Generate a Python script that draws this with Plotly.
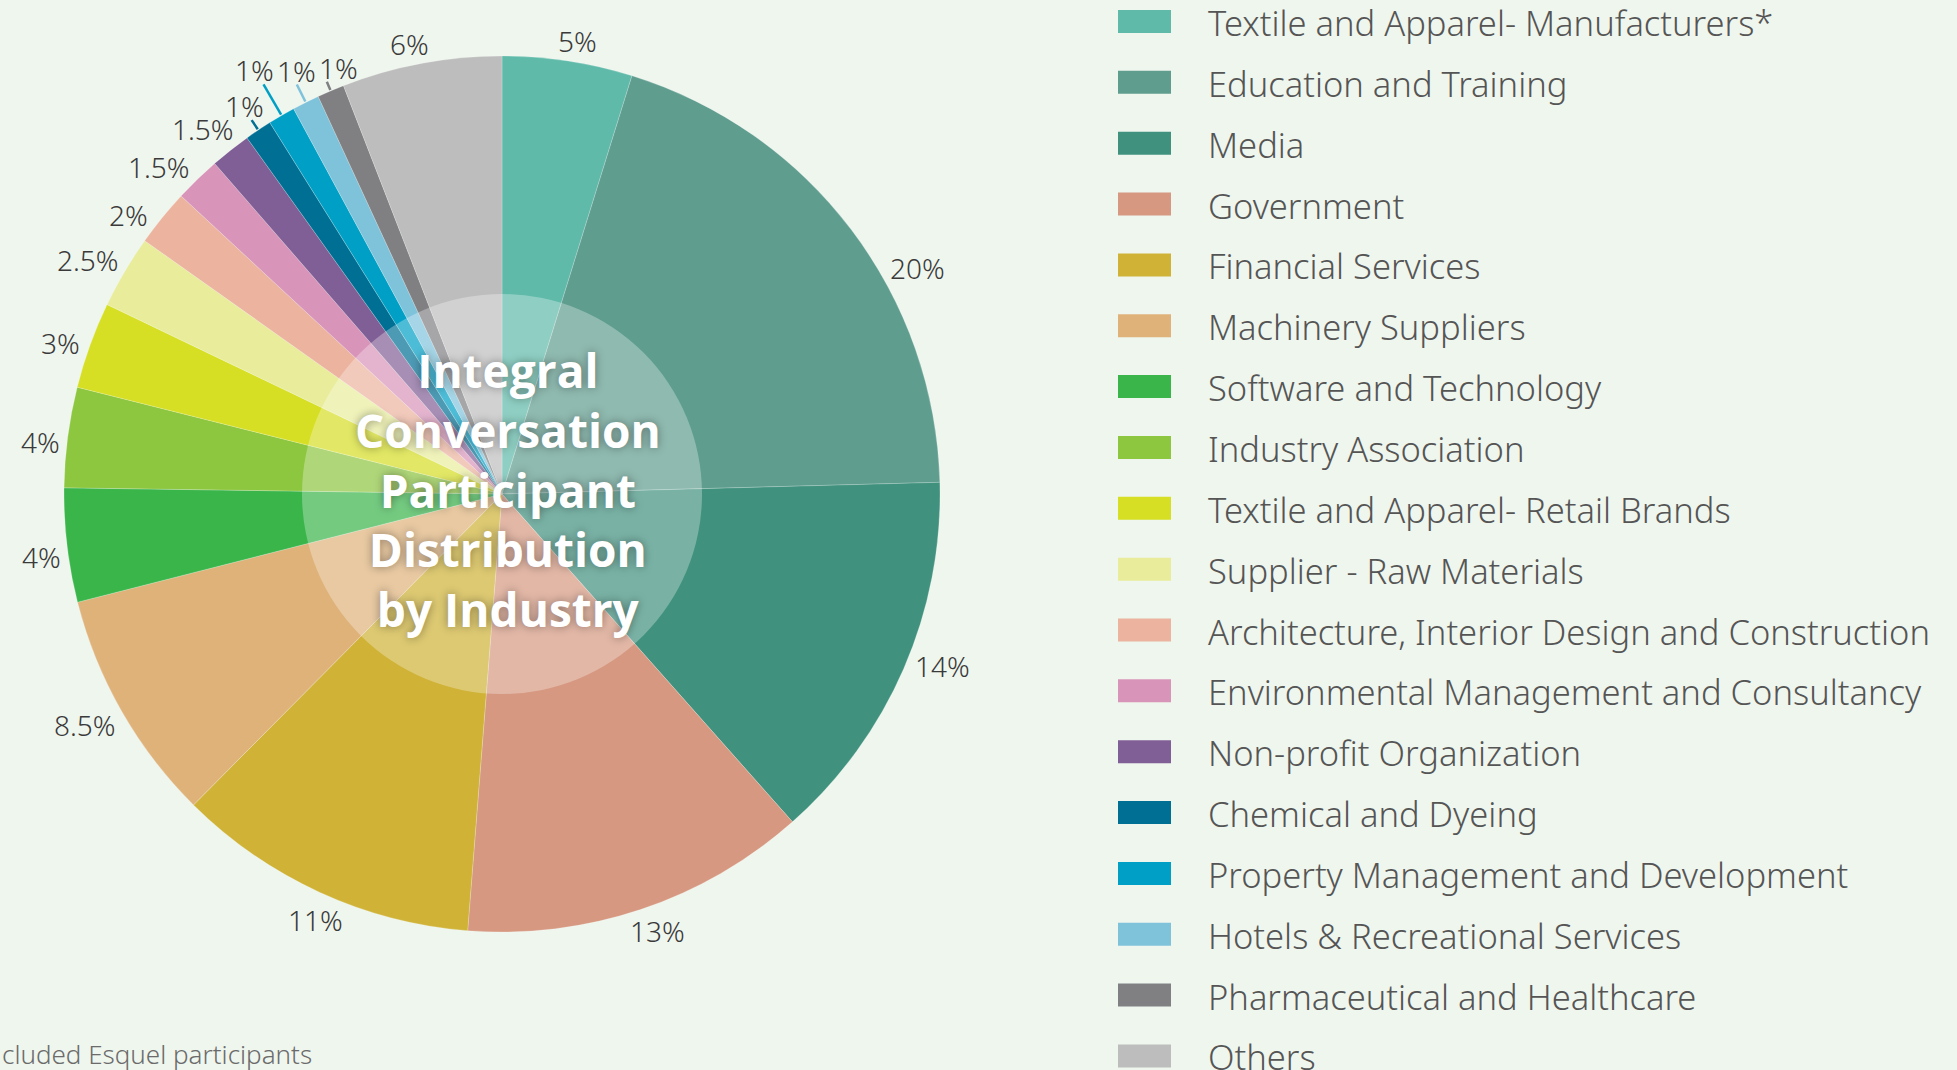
import math
import plotly.graph_objects as go

categories = [
    "Textile and Apparel- Manufacturers*",
    "Education and Training",
    "Media",
    "Government",
    "Financial Services",
    "Machinery Suppliers",
    "Software and Technology",
    "Industry Association",
    "Textile and Apparel- Retail Brands",
    "Supplier - Raw Materials",
    "Architecture, Interior Design and Construction",
    "Environmental Management and Consultancy",
    "Non-profit Organization",
    "Chemical and Dyeing",
    "Property Management and Development",
    "Hotels & Recreational Services",
    "Pharmaceutical and Healthcare",
    "Others",
]
# slice shares as measured from the slice angles in the picture
values = [4.8, 19.8, 13.9, 12.8, 11.2, 8.6, 4.2, 3.7, 3.2, 2.7, 2.1, 1.7, 1.5, 1.0, 1.0, 1.0, 1.0, 5.9]
# printed slice labels
value_labels = ["5%", "20%", "14%", "13%", "11%", "8.5%", "4%", "4%", "3%", "2.5%",
                "2%", "1.5%", "1.5%", "1%", "1%", "1%", "1%", "6%"]
colors = ["#5fbaa9", "#5f9d8f", "#40917e", "#d69880", "#cfb236", "#dfb27a",
          "#39b54a", "#8dc63f", "#d6df23", "#e8ec9b", "#ecb39e", "#d994b9",
          "#805e96", "#006f94", "#00a0c6", "#7fc3db", "#808083", "#bcbdbc"]
title_lines = ["Integral", "Conversation", "Participant", "Distribution", "by Industry"]
footnote = "cluded Esquel participants"

# ---- styling / layout constants ----
W, H = 1957, 1070
BG = "#eff6ee"
cx, cy, R = 502, 494, 438
LABEL_FONT = dict(family="Noto Sans", size=28, color="#3a3a3a", weight=300)
LEG_FONT = dict(family="Noto Sans", size=34.5, color="#555555", weight=300)
LABEL_GAP = 7                     # px between pie edge and label box
LABEL_ANGLE_SHIFT = -1.0          # degrees, general label nudge
label_angle_extra = {0: 1.8, 1: 9.6, 2: -1.1, 5: 1.8, 10: -1.4, 11: -1.3}
# leader lines for the thinnest slices: index -> (line length, label x shift)
leader = {13: (12, -7), 14: (36, -9), 15: (20, 0), 16: (10, 12)}


def px(x, y):
    return x / W, 1 - y / H


fig = go.Figure()
fig.add_trace(go.Pie(
    labels=categories,
    values=values,
    textinfo="none",
    sort=False,
    direction="clockwise",
    rotation=0,
    marker=dict(colors=colors, line=dict(width=0.6, color="rgba(255,255,255,0.35)")),
    domain=dict(x=[(cx - R) / W, (cx + R) / W], y=[1 - (cy + R) / H, 1 - (cy - R) / H]),
    showlegend=False,
    hoverinfo="label",
))

shapes = []
annotations = []

# slice labels placed just outside the pie at each slice's mid-angle
total = sum(values)
cum = 0.0
for i, (v, lab, col) in enumerate(zip(values, value_labels, colors)):
    mid = 360.0 * (cum + v / 2) / total
    cum += v
    if i in leader:
        th = math.radians(mid)
        s, c = math.sin(th), -math.cos(th)
        L, dx = leader[i]
        r0, r1 = R + 1, R + L
        x0, y0 = cx + r0 * s, cy + r0 * c
        x1, y1 = cx + r1 * s, cy + r1 * c
        shapes.append(dict(type="line", xref="paper", yref="paper",
                           x0=px(x0, y0)[0], y0=px(x0, y0)[1],
                           x1=px(x1, y1)[0], y1=px(x1, y1)[1],
                           line=dict(color=col, width=2.5)))
        ax, ay = px(x1 + dx, y1 - 14)
    else:
        th = math.radians(mid + LABEL_ANGLE_SHIFT + label_angle_extra.get(i, 0))
        s, c = math.sin(th), -math.cos(th)
        w = sum(15 if ch.isdigit() else (7 if ch == "." else 22) for ch in lab)
        h = 22
        rr = R + LABEL_GAP + 0.5 * (w * abs(s) + h * abs(c))
        ax, ay = px(cx + rr * s, cy + rr * c)
    annotations.append(dict(x=ax, y=ay, xref="paper", yref="paper", text=lab,
                            showarrow=False, xanchor="center", yanchor="middle",
                            font=LABEL_FONT))

# centre translucent disc + title
rc = 200
shapes.append(dict(type="circle", xref="paper", yref="paper",
                   x0=(cx - rc) / W, x1=(cx + rc) / W,
                   y0=1 - (cy + rc) / H, y1=1 - (cy - rc) / H,
                   fillcolor="rgba(255,255,255,0.3)", line=dict(width=0), layer="above"))
annotations.append(dict(x=(cx + 6) / W, y=1 - (cy - 4) / H, xref="paper", yref="paper",
                        text="<br>".join(title_lines), showarrow=False, align="center",
                        xanchor="center", yanchor="middle",
                        font=dict(family="Open Sans", size=46, color="white", weight=700,
                                  shadow="0px 0px 10px rgba(0,0,0,0.4)")))

# custom legend (large swatches, wide spacing)
lx0, lx1, lsw_h = 1118, 1171, 23
ly0, lstep = 21.5, 60.85
for i, (cat, col) in enumerate(zip(categories, colors)):
    yc = ly0 + i * lstep
    shapes.append(dict(type="rect", xref="paper", yref="paper",
                       x0=lx0 / W, x1=lx1 / W,
                       y0=1 - (yc + lsw_h / 2) / H, y1=1 - (yc - lsw_h / 2) / H,
                       fillcolor=col, line=dict(width=0)))
    annotations.append(dict(x=1206 / W, y=1 - (yc + 1) / H, xref="paper", yref="paper",
                            text=cat, showarrow=False, xanchor="left", yanchor="middle",
                            font=LEG_FONT))

annotations.append(dict(x=0, y=1 - 1054 / H, xref="paper", yref="paper", text=footnote,
                        showarrow=False, xanchor="left", yanchor="middle",
                        font=dict(family="Noto Sans", size=26, color="#6b6b6b", weight=300)))

fig.update_layout(
    width=W, height=H,
    margin=dict(l=0, r=0, t=0, b=0, pad=0, autoexpand=False),
    paper_bgcolor=BG, plot_bgcolor=BG,
    shapes=shapes, annotations=annotations,
)
fig.write_html("out.html", config={"displayModeBar": False},
               post_script="document.body.style.margin='0';document.body.style.overflow='hidden';")
